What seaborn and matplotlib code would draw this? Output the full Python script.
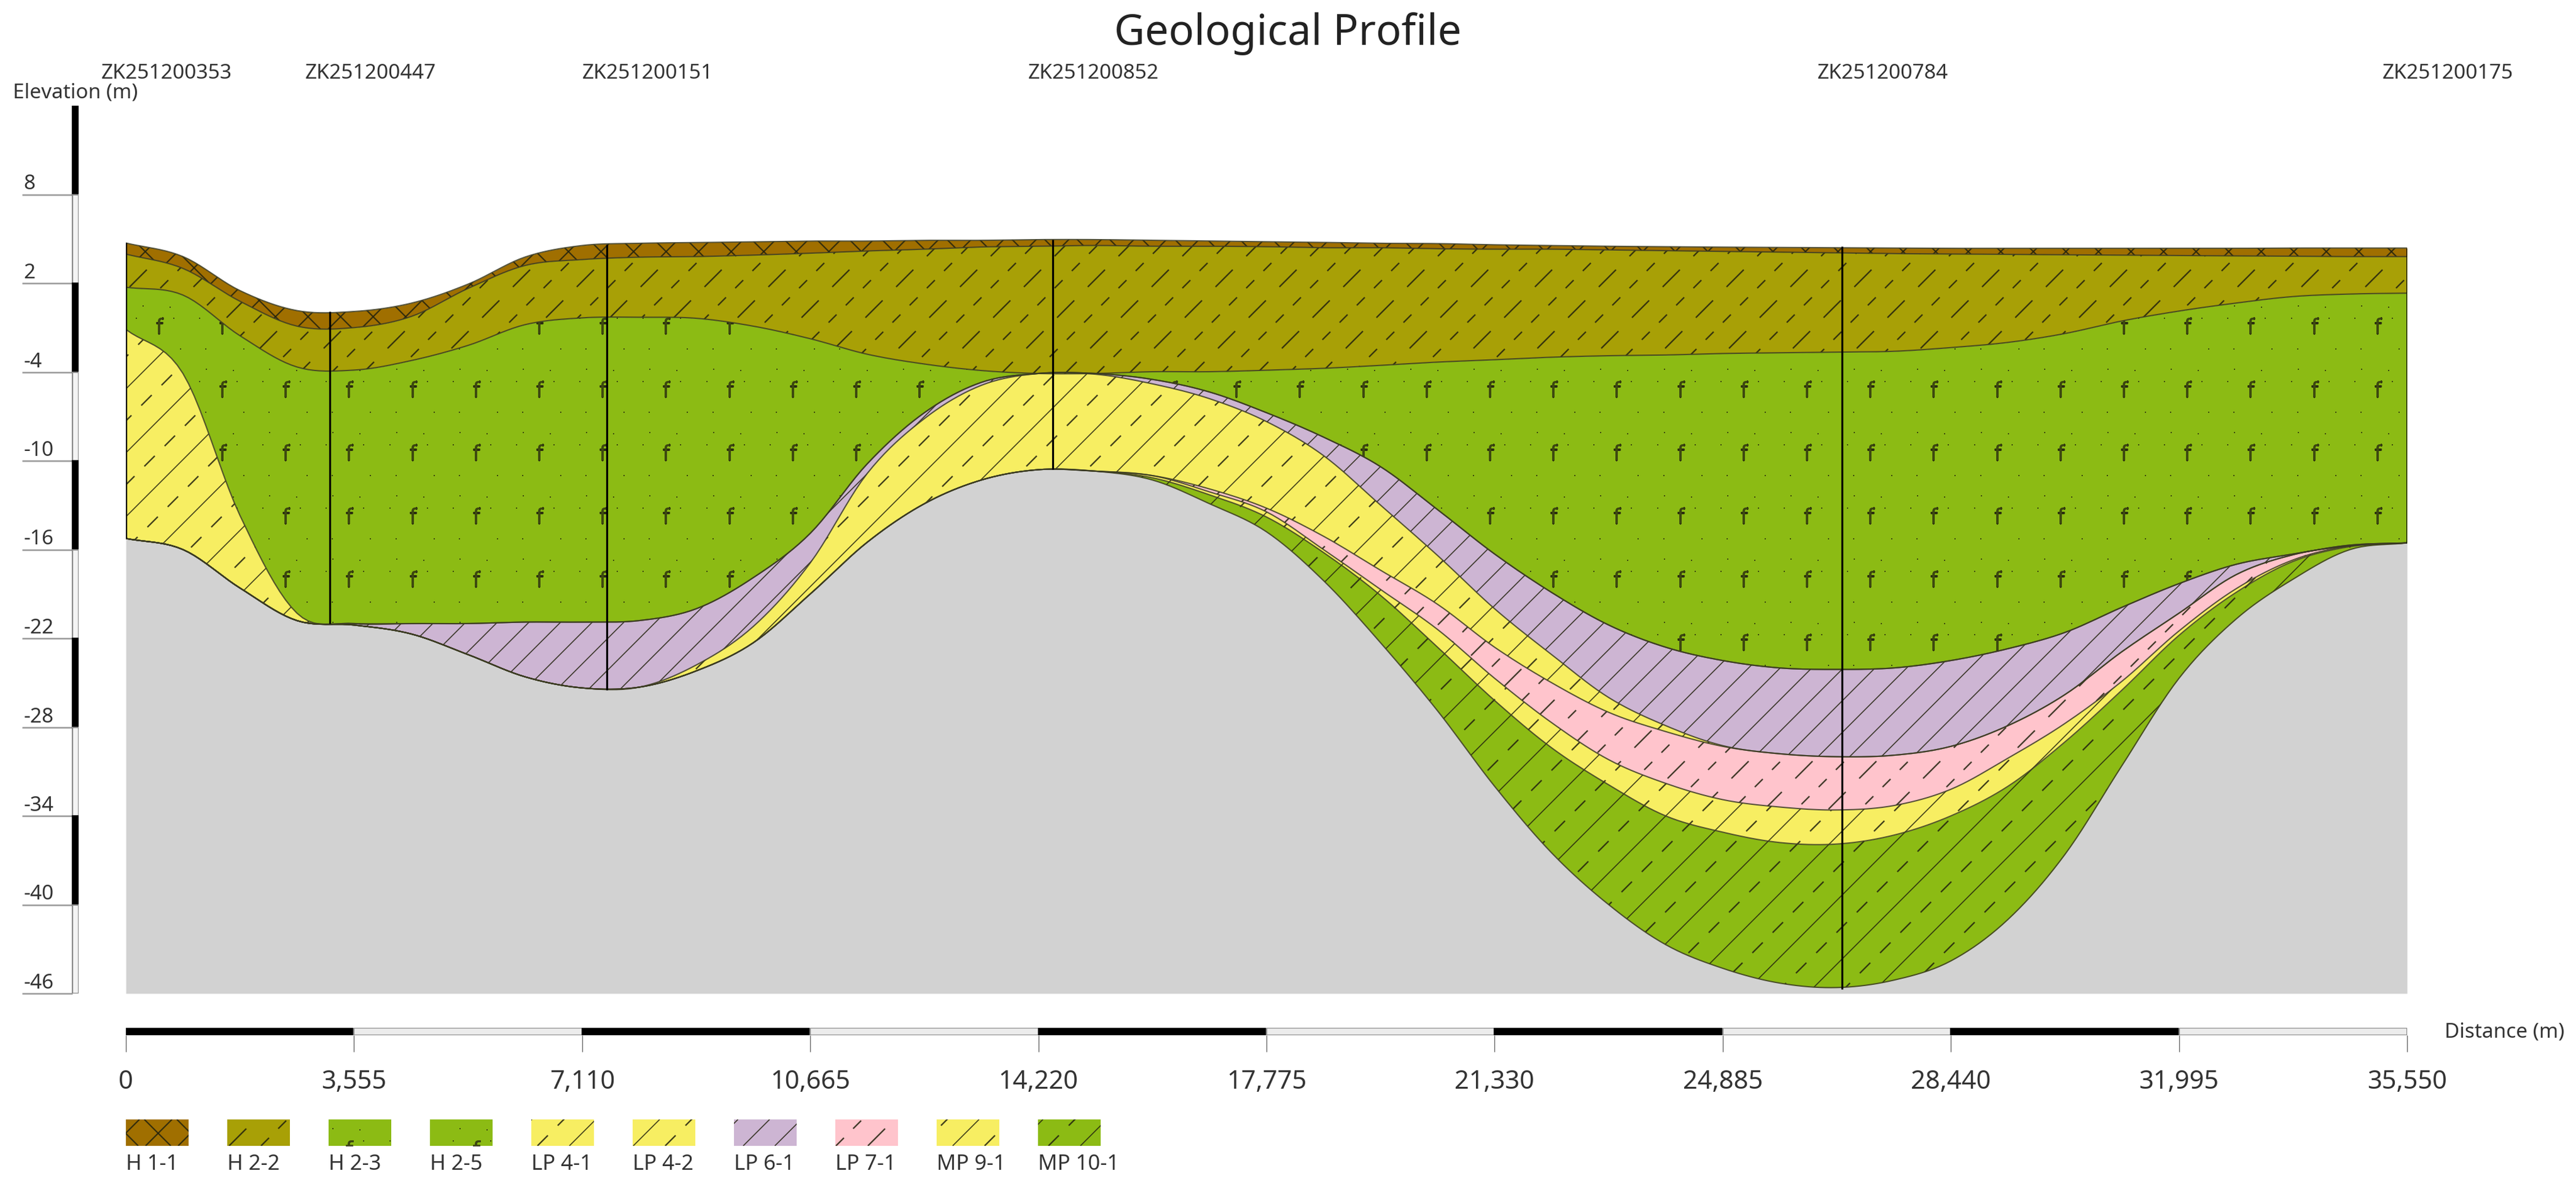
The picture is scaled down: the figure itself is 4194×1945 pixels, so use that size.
import numpy as np
import pandas as pd
import matplotlib
matplotlib.use("Agg")
import matplotlib.pyplot as plt
from matplotlib.collections import LineCollection
from matplotlib.transforms import IdentityTransform, ScaledTranslation
import seaborn as sns

# ---------- data ----------
distance = [0, 889, 1778, 2666, 3555, 4444, 5333, 6221, 7110, 7999, 8888, 9776, 10665, 11554, 12443, 13331,
            14220, 15109, 15998, 16886, 17775, 18664, 19553, 20441, 21330, 22219, 23108, 23996, 24885, 25774,
            26663, 27551, 28440, 29329, 30218, 31106, 31995, 32884, 33773, 34661, 35550]

top_surface = [4.72, 3.8, 1.5, 0.15, 0.09, 0.65, 1.94, 3.77, 4.55, 4.7, 4.75, 4.8, 4.85, 4.85, 4.9, 4.9, 4.95, 4.95,
               4.9, 4.85, 4.8, 4.76, 4.7, 4.68, 4.6, 4.55, 4.5, 4.47, 4.44, 4.42, 4.4, 4.38, 4.36, 4.36, 4.36, 4.36,
               4.36, 4.36, 4.38, 4.38, 4.38]
h11_base = [3.97, 3.0, 0.78, -0.9, -1.0, -0.25, 1.65, 3.2, 3.6, 3.76, 3.8, 3.9, 4.03, 4.18, 4.3, 4.45, 4.5, 4.55,
            4.5, 4.5, 4.47, 4.4, 4.4, 4.33, 4.3, 4.3, 4.25, 4.2, 4.15, 4.1, 4.05, 4.0, 3.98, 3.95, 3.92, 3.9,
            3.87, 3.85, 3.83, 3.8, 3.8]
h22_base = [1.73, 1.2, -1.55, -3.66, -3.87, -3.23, -2.2, -0.8, -0.34, -0.3, -0.37, -0.9, -1.75, -2.8, -3.46, -3.9,
            -4.1, -4.1, -3.98, -3.98, -3.88, -3.75, -3.55, -3.33, -3.17, -3.0, -2.9, -2.85, -2.75, -2.7, -2.65,
            -2.6, -2.35, -2.0, -1.4, -0.55, 0.12, 0.66, 1.1, 1.27, 1.33]
h23_base = [-1.12, -4.1, -13.7, -20.3, -21.0, -21.0, -21.0, -20.9, -20.9, -20.8, -20.0, -17.9, -14.9, -10.2, -6.75,
            -4.7, -4.1, -4.1, -4.5, -5.35, -6.75, -8.4, -10.4, -13.3, -16.3, -18.9, -21.1, -22.6, -23.5, -24.0,
            -24.1, -24.0, -23.5, -22.7, -21.6, -19.9, -18.3, -17.0, -16.3, -15.7, -15.55]
lp42_base = [-15.25, -16.0, -18.6, -20.8, -21.0, -21.0, -21.0, -20.9, -20.9, -20.8, -20.0, -17.9, -14.9, -10.2, -6.75,
             -4.7, -4.1, -4.1, -4.5, -5.35, -6.75, -8.4, -10.4, -13.3, -16.3, -18.9, -21.1, -22.6, -23.5, -24.0,
             -24.1, -24.0, -23.5, -22.7, -21.6, -19.9, -18.3, -17.0, -16.3, -15.7, -15.55]
lp61_base = [-15.25, -16.0, -18.6, -20.8, -21.1, -21.7, -23.1, -24.6, -25.35, -25.3, -23.8, -21.2, -16.9, -10.85, -7.15,
             -4.9, -4.1, -4.15, -4.8, -5.8, -7.35, -9.65, -13.0, -16.4, -20.0, -23.1, -26.0, -27.9, -29.25, -29.8,
             -30.0, -29.9, -29.3, -27.9, -25.8, -22.9, -20.3, -17.7, -16.35, -15.75, -15.55]
lp41_base = [-15.25, -16.0, -18.6, -20.8, -21.1, -21.7, -23.1, -24.6, -25.35, -25.3, -24.2, -22.3, -19.0, -15.5, -12.9,
             -11.3, -10.6, -10.7, -11.0, -11.9, -13.2, -15.1, -17.4, -19.7, -22.6, -25.0, -27.0, -28.3, -29.3, -29.8,
             -30.0, -29.9, -29.3, -27.9, -25.8, -22.9, -20.3, -17.7, -16.35, -15.75, -15.55]
lp71_base = [-15.25, -16.0, -18.6, -20.8, -21.1, -21.7, -23.1, -24.6, -25.35, -25.3, -24.2, -22.3, -19.0, -15.5, -12.9,
             -11.3, -10.6, -10.7, -11.0, -12.1, -13.45, -16.0, -18.7, -21.4, -24.7, -27.7, -30.2, -31.8, -32.9, -33.4,
             -33.6, -33.3, -32.2, -30.1, -27.75, -24.9, -21.5, -18.65, -16.7, -15.75, -15.55]
mp91_base = [-15.25, -16.0, -18.6, -20.8, -21.1, -21.7, -23.1, -24.6, -25.35, -25.3, -24.2, -22.3, -19.0, -15.5, -12.9,
             -11.3, -10.6, -10.7, -11.15, -12.3, -13.8, -16.2, -19.1, -22.6, -26.2, -29.4, -31.9, -34.0, -35.1, -35.8,
             -35.9, -35.3, -34.0, -32.0, -29.0, -25.5, -21.8, -18.9, -16.8, -15.8, -15.55]
mp101_base = [-15.25, -16.0, -18.6, -20.8, -21.1, -21.7, -23.1, -24.6, -25.35, -25.3, -24.2, -22.3, -19.0, -15.5, -12.9,
              -11.3, -10.6, -10.7, -11.3, -12.9, -14.8, -18.1, -22.3, -26.9, -32.0, -36.5, -40.0, -42.7, -44.3, -45.3,
              -45.6, -45.1, -43.8, -41.0, -36.6, -30.6, -24.7, -20.7, -18.0, -16.0, -15.55]

model_base = -46
boreholes = ["ZK251200353", "ZK251200447", "ZK251200151", "ZK251200852", "ZK251200784", "ZK251200175"]
hole_dist = [0, 3178, 7495, 14444, 26744, 35550]
hole_top = [4.72, 0.1, 4.6, 4.95, 4.5, 4.38]
hole_bottom = [-15.25, -21.0, -25.5, -10.6, -45.7, -15.55]

y_ticks = [8, 2, -4, -10, -16, -22, -28, -34, -40, -46]
y_labels = ["8", "2", "-4", "-10", "-16", "-22", "-28", "-34", "-40", "-46"]
x_ticks = [0, 3555, 7110, 10665, 14220, 17775, 21330, 24885, 28440, 31995, 35550]
x_labels = ["0", "3,555", "7,110", "10,665", "14,220", "17,775", "21,330", "24,885", "28,440", "31,995", "35,550"]
legend_names = ["H 1-1", "H 2-2", "H 2-3", "H 2-5", "LP 4-1", "LP 4-2", "LP 6-1", "LP 7-1", "MP 9-1", "MP 10-1"]

C_BROWN, C_OLIVE, C_GREEN = "#A06F00", "#A8A006", "#8CBB14"
C_YELLOW, C_PURPLE, C_PINK, C_GRAY = "#F7EE62", "#CDB5D3", "#FFC4CC", "#D2D2D2"
legend_colors = [C_BROWN, C_OLIVE, C_GREEN, C_GREEN, C_YELLOW, C_YELLOW, C_PURPLE, C_PINK, C_YELLOW, C_GREEN]
legend_hatch = ["cross", "dash", "dots", "dots", "soliddash", "soliddash", "solid", "dash", "soliddash", "soliddash"]

# ---------- figure ----------
W, H = 4194, 1945
sns.set_theme(style="white")
plt.rcParams["font.family"] = ["Noto Sans", "DejaVu Sans"]
TXT = "#333333"
fig = plt.figure(figsize=(W / 100, H / 100), dpi=100, facecolor="white")


def px_axes(x0, y0, x1, y1):
    """axes placed by image pixels (y downward)"""
    return fig.add_axes([x0 / W, 1 - y1 / H, (x1 - x0) / W, (y1 - y0) / H])


def curve(x, y, n=10):
    """smooth drawing path through the read values (Catmull-Rom), so the strata are curves, not polylines"""
    x = np.asarray(x, float)
    y = np.asarray(y, float)
    h = np.diff(x)
    m = np.gradient(y, x)
    xs, ys = [], []
    for i in range(len(h)):
        t = np.linspace(0, 1, n, endpoint=False)
        xs.append(x[i] + t * h[i])
        ys.append((2 * t**3 - 3 * t**2 + 1) * y[i] + (t**3 - 2 * t**2 + t) * h[i] * m[i]
                  + (-2 * t**3 + 3 * t**2) * y[i + 1] + (t**3 - t**2) * h[i] * m[i + 1])
    return np.append(np.concatenate(xs), x[-1]), np.append(np.concatenate(ys), y[-1])


IDT = IdentityTransform()
HATCH_C = "#23230f"


def add_segments(ax, segs, clip, lw, trans=None):
    lc = LineCollection(segs, colors=HATCH_C, linewidths=lw, transform=IDT, alpha=0.85)
    ax.add_collection(lc, autolim=False)
    if trans is None:
        lc.set_clip_path(clip)
    else:
        lc.set_clip_path(clip, trans)


def hatch(ax, spec, clip, box, trans=None):
    kind, phase = spec
    x0, y0, x1, y1 = box  # image pixels

    def lines(period, ph):
        return np.arange(ph + np.floor((x0 + y0 - ph) / period) * period, x1 + y1 + period, period)

    def seg(c, xa, xb):
        return [(xa, H - (c - xa)), (xb, H - (c - xb))]

    def solid(period, ph):
        return [seg(c, c - y1, c - y0) for c in lines(period, ph)]

    def dashed(period, ph, on, off):
        out = []
        for c in lines(period, ph):
            out += [seg(c, a, a + on) for a in np.arange(c - y1, c - y0, on + off)]
        return out

    if kind == "cross":
        segs = solid(53, phase)
        for c in np.arange(-y1 - 40, x1 - y0 + 53, 53.0):
            segs.append([(c + y0, H - y0), (c + y1, H - y1)])
        add_segments(ax, segs, clip, 1.6, trans)
    elif kind == "dash":
        add_segments(ax, dashed(104, phase, 28, 22) + dashed(104, phase + 52, 13, 15), clip, 1.7, trans)
    elif kind == "solid":
        add_segments(ax, solid(51.5, phase), clip, 1.2, trans)
    elif kind == "soliddash":
        add_segments(ax, solid(104, phase), clip, 1.2, trans)
        add_segments(ax, dashed(104, phase + 52, 17, 16), clip, 1.7, trans)
    elif kind == "dots":
        fx, fy, dx, dy = [], [], [], []
        for cx in np.arange(x0 - 103, x1 + 103, 103.2):
            cx = 363 + np.round((cx - 363) / 103.2) * 103.2
            for cy in np.arange(y0 - 103, y1 + 103, 103.0):
                cy = 632.5 + np.round((cy - 632.5) / 103.0) * 103.0
                fx.append(cx)
                fy.append(H - cy)
                for ox, oy in [(-38, -12), (23, -12), (-27, -32), (17, -30), (-28, 38), (34, 38)]:
                    dx.append(cx + ox)
                    dy.append(H - (cy + oy))
        for xs, ys, m, ms, mw in [(fx, fy, r"$\mathrm{f}$", 19, 0.5), (dx, dy, "s", 1.6, 0.0)]:
            ln, = ax.plot(xs, ys, ls="", marker=m, ms=ms, mfc=HATCH_C, mec=HATCH_C, mew=mw,
                          transform=IDT, scalex=False, scaley=False, alpha=0.75)
            if trans is None:
                ln.set_clip_path(clip)
            else:
                ln.set_clip_path(clip, trans)


# ---------- main section ----------
ax = px_axes(205, 172, 3919, 1617)
ax.set_xlim(0, 35550)
ax.set_ylim(-46, 14)
ax.axis("off")
ax.autoscale(False)

series = {"top": top_surface, "h11": h11_base, "h22": h22_base, "h23": h23_base, "lp42": lp42_base,
          "lp61": lp61_base, "lp41": lp41_base, "lp71": lp71_base, "mp91": mp91_base, "mp101": mp101_base}
surfaces = pd.DataFrame({k: curve(distance, v)[1] for k, v in series.items()})
surfaces["distance"] = curve(distance, top_surface)[0]

ax.fill_between(surfaces["distance"], model_base, surfaces["mp101"], color=C_GRAY, lw=0, zorder=1)

layers = [("top", "h11", C_BROWN, ("cross", 10)), ("h11", "h22", C_OLIVE, ("dash", 54)),
          ("h22", "h23", C_GREEN, ("dots", 0)), ("h23", "lp42", C_YELLOW, ("soliddash", 6)),
          ("lp42", "lp61", C_PURPLE, ("solid", 20)), ("lp61", "lp41", C_YELLOW, ("soliddash", 90)),
          ("lp41", "lp71", C_PINK, ("dash", 30)), ("lp71", "mp91", C_YELLOW, ("soliddash", 88)),
          ("mp91", "mp101", C_GREEN, ("soliddash", 88))]
for upper, lower, col, spec in layers:
    poly = ax.fill_between(surfaces["distance"], surfaces[upper], surfaces[lower], color=col, lw=0, zorder=1.5)
    hatch(ax, spec, poly.get_paths()[0], (205, 380, 3919, 1617), ax.transData)

for name in series:
    sns.lineplot(data=surfaces, x="distance", y=name, ax=ax, color="#3b3b22", linewidth=1.5, alpha=0.85,
                 legend=False, errorbar=None, sort=False, zorder=3)

ax.vlines(hole_dist, hole_bottom, hole_top, colors="black", linewidth=2.3, zorder=4)
ax.axis("off")
ax.set_xlim(0, 35550)
ax.set_ylim(-46, 14)

label_tf = ax.transData + ScaledTranslation(-40 / 100, 0, fig.dpi_scale_trans)
for name, d in zip(boreholes, hole_dist):
    ax.text(d, 16.2, name, transform=label_tf, ha="left", va="center", fontsize=24.2, color=TXT)

# ---------- elevation bar ----------
ay = px_axes(36, 172, 128, 1617)
ay.set_xlim(0, 92)
ay.set_ylim(-46, 14)
seg_bottoms = [8, 2, -4, -10, -16, -22, -28, -34, -40, -46]
for k, b in enumerate(seg_bottoms):
    ay.bar(87, 6, bottom=b, width=10, color="black" if k % 2 == 0 else "#f4f4f4",
           edgecolor="black" if k % 2 == 0 else "#8a8a8a", linewidth=1.6)
for s in ay.spines.values():
    s.set_visible(False)
ay.set_facecolor("none")
ay.set_xticks([])
ay.set_yticks(y_ticks, y_labels)
ay.tick_params(axis="y", direction="in", length=59, width=1.8, color="#999999", pad=-2, labelsize=24,
               labelcolor=TXT, left=True)
for lab in ay.get_yticklabels():
    lab.set_ha("left")
    lab.set_va("bottom")

# ---------- distance bar ----------
ax2 = px_axes(205, 1673, 3919, 1685)
ax2.set_xlim(0, 35550)
ax2.set_ylim(0, 1)
for k in range(10):
    ax2.bar(x_ticks[k], 1, width=3555, align="edge", color="black" if k % 2 == 0 else "#ececec",
            edgecolor="black" if k % 2 == 0 else "#8a8a8a", linewidth=1.6)
for s in ax2.spines.values():
    s.set_visible(False)
ax2.set_yticks([])
ax2.set_xticks(x_ticks, x_labels)
ax2.tick_params(axis="x", length=19.5, width=1.0, color="#666666", pad=20, labelsize=30, labelcolor=TXT, bottom=True)

# ---------- legend ----------
al = px_axes(205, 1822, 205 + 165 * 10, 1865)
al.set_xlim(0, 10)
al.set_ylim(0, 1)
al.axis("off")
bars = al.bar(range(10), 1, width=102 / 165, align="edge", color=legend_colors, linewidth=0)
for k, (b, kind, nm) in enumerate(zip(bars, legend_hatch, legend_names)):
    bx0 = 205 + 165 * k
    hatch(al, (kind, 88 if kind != "dash" else 54), b, (bx0, 1822, bx0 + 102, 1865))
    al.text(k, -0.7, nm, ha="left", va="center", fontsize=25, color=TXT)

# ---------- titles ----------
fig.text(2097 / W, 1 - 55 / H, "Geological Profile", ha="center", va="center", fontsize=49.4, color="#222222")
fig.text(21 / W, 1 - 151 / H, "Elevation (m)", ha="left", va="center", fontsize=24, color=TXT)
fig.text(3980 / W, 1 - 1680 / H, "Distance (m)", ha="left", va="center", fontsize=24, color=TXT)

fig.savefig("out.png", dpi=100, facecolor="white")
